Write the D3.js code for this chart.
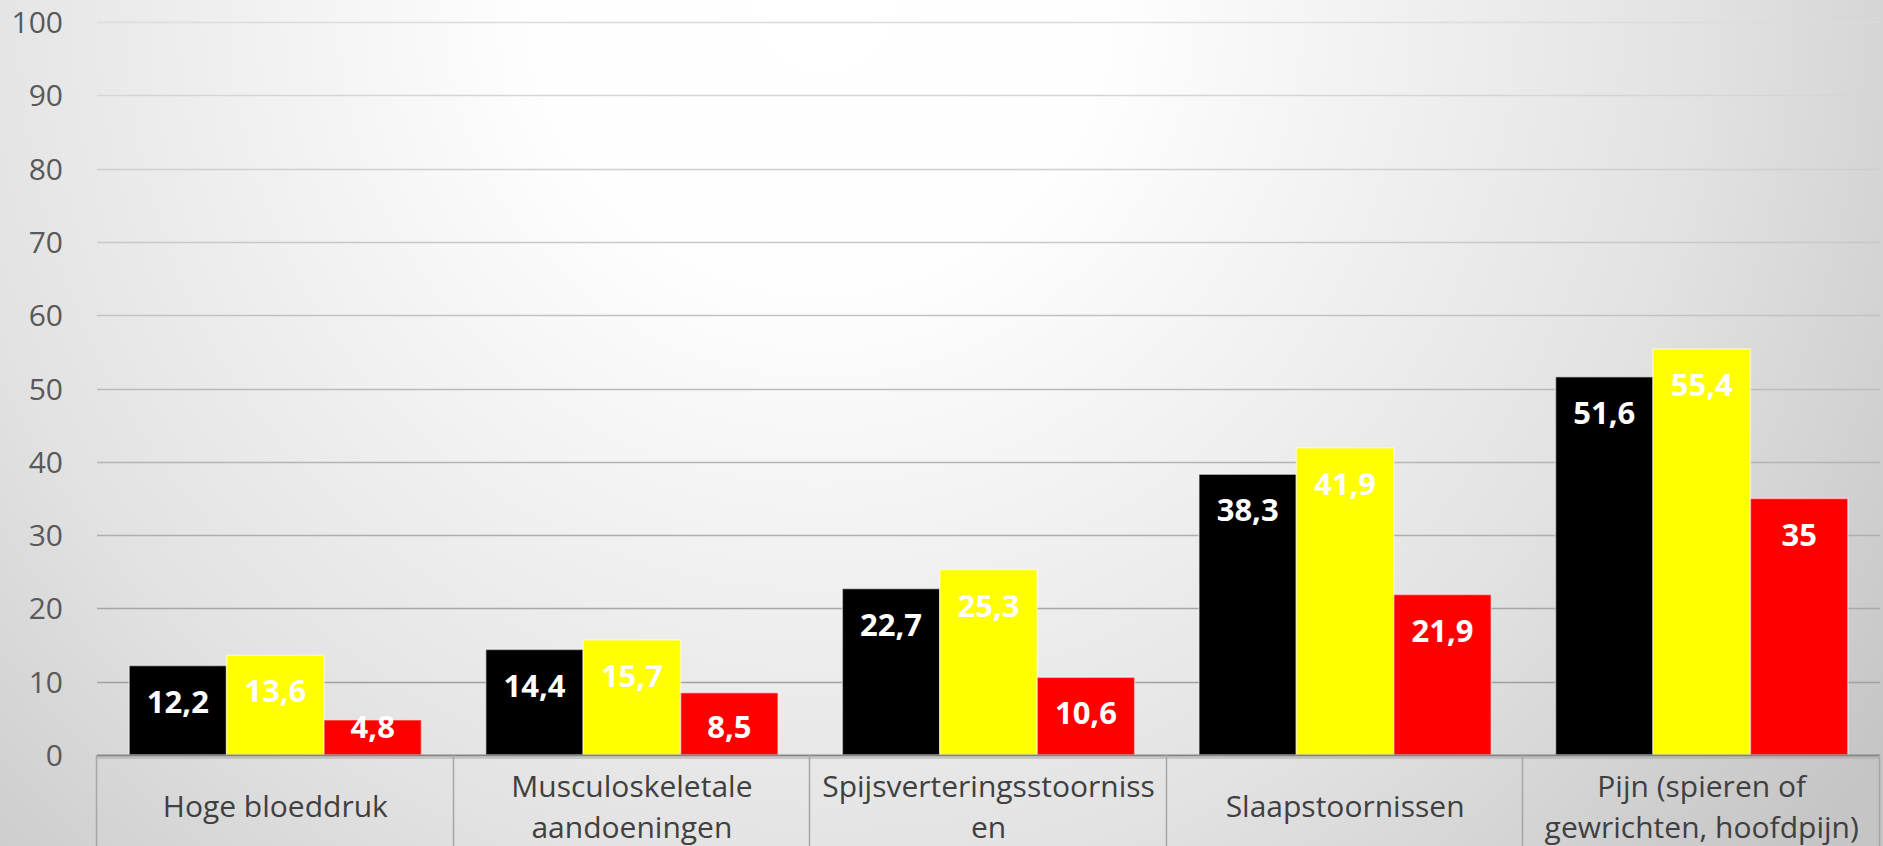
<!DOCTYPE html>
<html>
<head>
<meta charset="utf-8">
<script src="https://cdn.jsdelivr.net/npm/d3@7"></script>
<style>
  html, body { margin: 0; padding: 0; overflow: hidden; }
  svg { display: block; }
</style>
</head>
<body>
<svg id="chart" width="1883" height="846"></svg>
<script>
// ---- data ----
const categories = [
  "Hoge bloeddruk",
  "Musculoskeletale aandoeningen",
  "Spijsverteringsstoornissen",
  "Slaapstoornissen",
  "Pijn (spieren of gewrichten, hoofdpijn)"
];
const categoryLines = [
  ["Hoge bloeddruk"],
  ["Musculoskeletale", "aandoeningen"],
  ["Spijsverteringsstoorniss", "en"],
  ["Slaapstoornissen"],
  ["Pijn (spieren of", "gewrichten, hoofdpijn)"]
];
const seriesNames = ["Reeks 1", "Reeks 2", "Reeks 3"];
const seriesBlack  = [12.2, 14.4, 22.7, 38.3, 51.6];
const seriesYellow = [13.6, 15.7, 25.3, 41.9, 55.4];
const seriesRed    = [4.8, 8.5, 10.6, 21.9, 35];
const seriesColors = ["#000000", "#ffff00", "#ff0000"];
const yTicks = [0, 10, 20, 30, 40, 50, 60, 70, 80, 90, 100];

const seriesValues = [seriesBlack, seriesYellow, seriesRed];

// ---- layout ----
const W = 1883, H = 846;
const plotLeft = 97, plotRight = 1880, plotTop = 22, plotBottom = 755;

const svg = d3.select("#chart");
const defs = svg.append("defs");
const bg = defs.append("radialGradient")
  .attr("id", "bg").attr("gradientUnits", "userSpaceOnUse")
  .attr("cx", 820).attr("cy", 0).attr("r", 1300);
[[0, "#ffffff"], [0.22, "#fefefe"], [0.45, "#f0f0f0"], [0.68, "#e2e2e2"], [1, "#c5c5c5"]]
  .forEach(([o, c]) => bg.append("stop").attr("offset", o).attr("stop-color", c));

svg.append("rect").attr("width", W).attr("height", H).attr("fill", "url(#bg)");

const x0 = d3.scaleBand().domain(categories).range([plotLeft, plotRight]).padding(0);
const x1 = d3.scaleBand().domain(seriesNames).range([0, x0.bandwidth()])
  .paddingInner(0).paddingOuter(0.33);
const y = d3.scaleLinear().domain([0, 100]).range([plotBottom, plotTop]);

// gridlines
const gridColor = d3.scaleLinear().domain([plotTop, plotBottom]).range(["#dcdcdc", "#9a9a9a"]);
svg.append("g").selectAll("line")
  .data(yTicks.filter(t => t !== 0))
  .join("line")
  .attr("x1", plotLeft).attr("x2", plotRight)
  .attr("y1", d => Math.round(y(d)) + 0.5).attr("y2", d => Math.round(y(d)) + 0.5)
  .attr("stroke", d => gridColor(y(d))).attr("stroke-width", 1.5);

// y axis labels
const yAxis = d3.axisLeft(y).tickValues(yTicks).tickSize(0).tickPadding(0)
  .tickFormat(d3.format("d"));
const yg = svg.append("g").attr("transform", `translate(63,0)`).call(yAxis);
yg.select(".domain").remove();
yg.selectAll("text")
  .attr("font-family", "'Open Sans', sans-serif")
  .attr("font-size", 30)
  .attr("fill", "#595959")
  .attr("dy", "0.35em");

// bars
const groups = svg.append("g").selectAll("g")
  .data(categories)
  .join("g")
  .attr("transform", d => `translate(${x0(d)},0)`);

groups.selectAll("rect")
  .data((c, ci) => seriesNames.map((s, si) => ({ s, si, v: seriesValues[si][ci] })))
  .join("rect")
  .attr("x", d => x1(d.s))
  .attr("y", d => y(d.v))
  .attr("width", x1.bandwidth())
  .attr("height", d => y(0) - y(d.v))
  .attr("fill", d => seriesColors[d.si])
  .attr("stroke", "#ffffff")
  .attr("stroke-opacity", 0.5)
  .attr("stroke-width", 1.5);

groups.selectAll("text")
  .data((c, ci) => seriesNames.map((s, si) => ({ s, si, v: seriesValues[si][ci] })))
  .join("text")
  .attr("x", d => x1(d.s) + x1.bandwidth() / 2)
  .attr("y", d => Math.min(y(d.v) + 36, y(0) - 28))
  .attr("dy", "0.36em")
  .attr("text-anchor", "middle")
  .attr("font-family", "'Open Sans', sans-serif")
  .attr("font-weight", "bold")
  .attr("font-size", 31)
  .attr("fill", "#ffffff")
  .text(d => d3.format("")(d.v).replace(".", ","));

// category axis boxes
const axisG = svg.append("g");
axisG.append("line")
  .attr("x1", plotLeft).attr("x2", plotRight)
  .attr("y1", plotBottom + 0.5).attr("y2", plotBottom + 0.5)
  .attr("stroke", "#858585").attr("stroke-width", 2);
axisG.append("line")
  .attr("x1", plotLeft).attr("x2", plotRight)
  .attr("y1", plotBottom + 3).attr("y2", plotBottom + 3)
  .attr("stroke", "#a6a6a6").attr("stroke-width", 1);
const bounds = categories.map(c => x0(c)).concat([x0(categories[categories.length - 1]) + x0.bandwidth()]);
axisG.selectAll("line.sep")
  .data(bounds)
  .join("line")
  .attr("class", "sep")
  .attr("x1", d => Math.round(d) - 0.5).attr("x2", d => Math.round(d) - 0.5)
  .attr("y1", plotBottom).attr("y2", H)
  .attr("stroke", "#a6a6a6").attr("stroke-width", 1.5);

const lineGap = 41;
const midBase = 817;
svg.append("g").selectAll("text")
  .data(categories)
  .join("text")
  .attr("text-anchor", "middle")
  .attr("font-family", "'Open Sans', sans-serif")
  .attr("font-size", 30)
  .attr("fill", "#404040")
  .each(function (c, i) {
    const lines = categoryLines[i];
    const start = midBase - (lines.length - 1) * lineGap / 2;
    d3.select(this).selectAll("tspan")
      .data(lines)
      .join("tspan")
      .attr("x", x0(c) + x0.bandwidth() / 2)
      .attr("y", (l, j) => start + j * lineGap)
      .text(l => l);
  });
</script>
</body>
</html>
